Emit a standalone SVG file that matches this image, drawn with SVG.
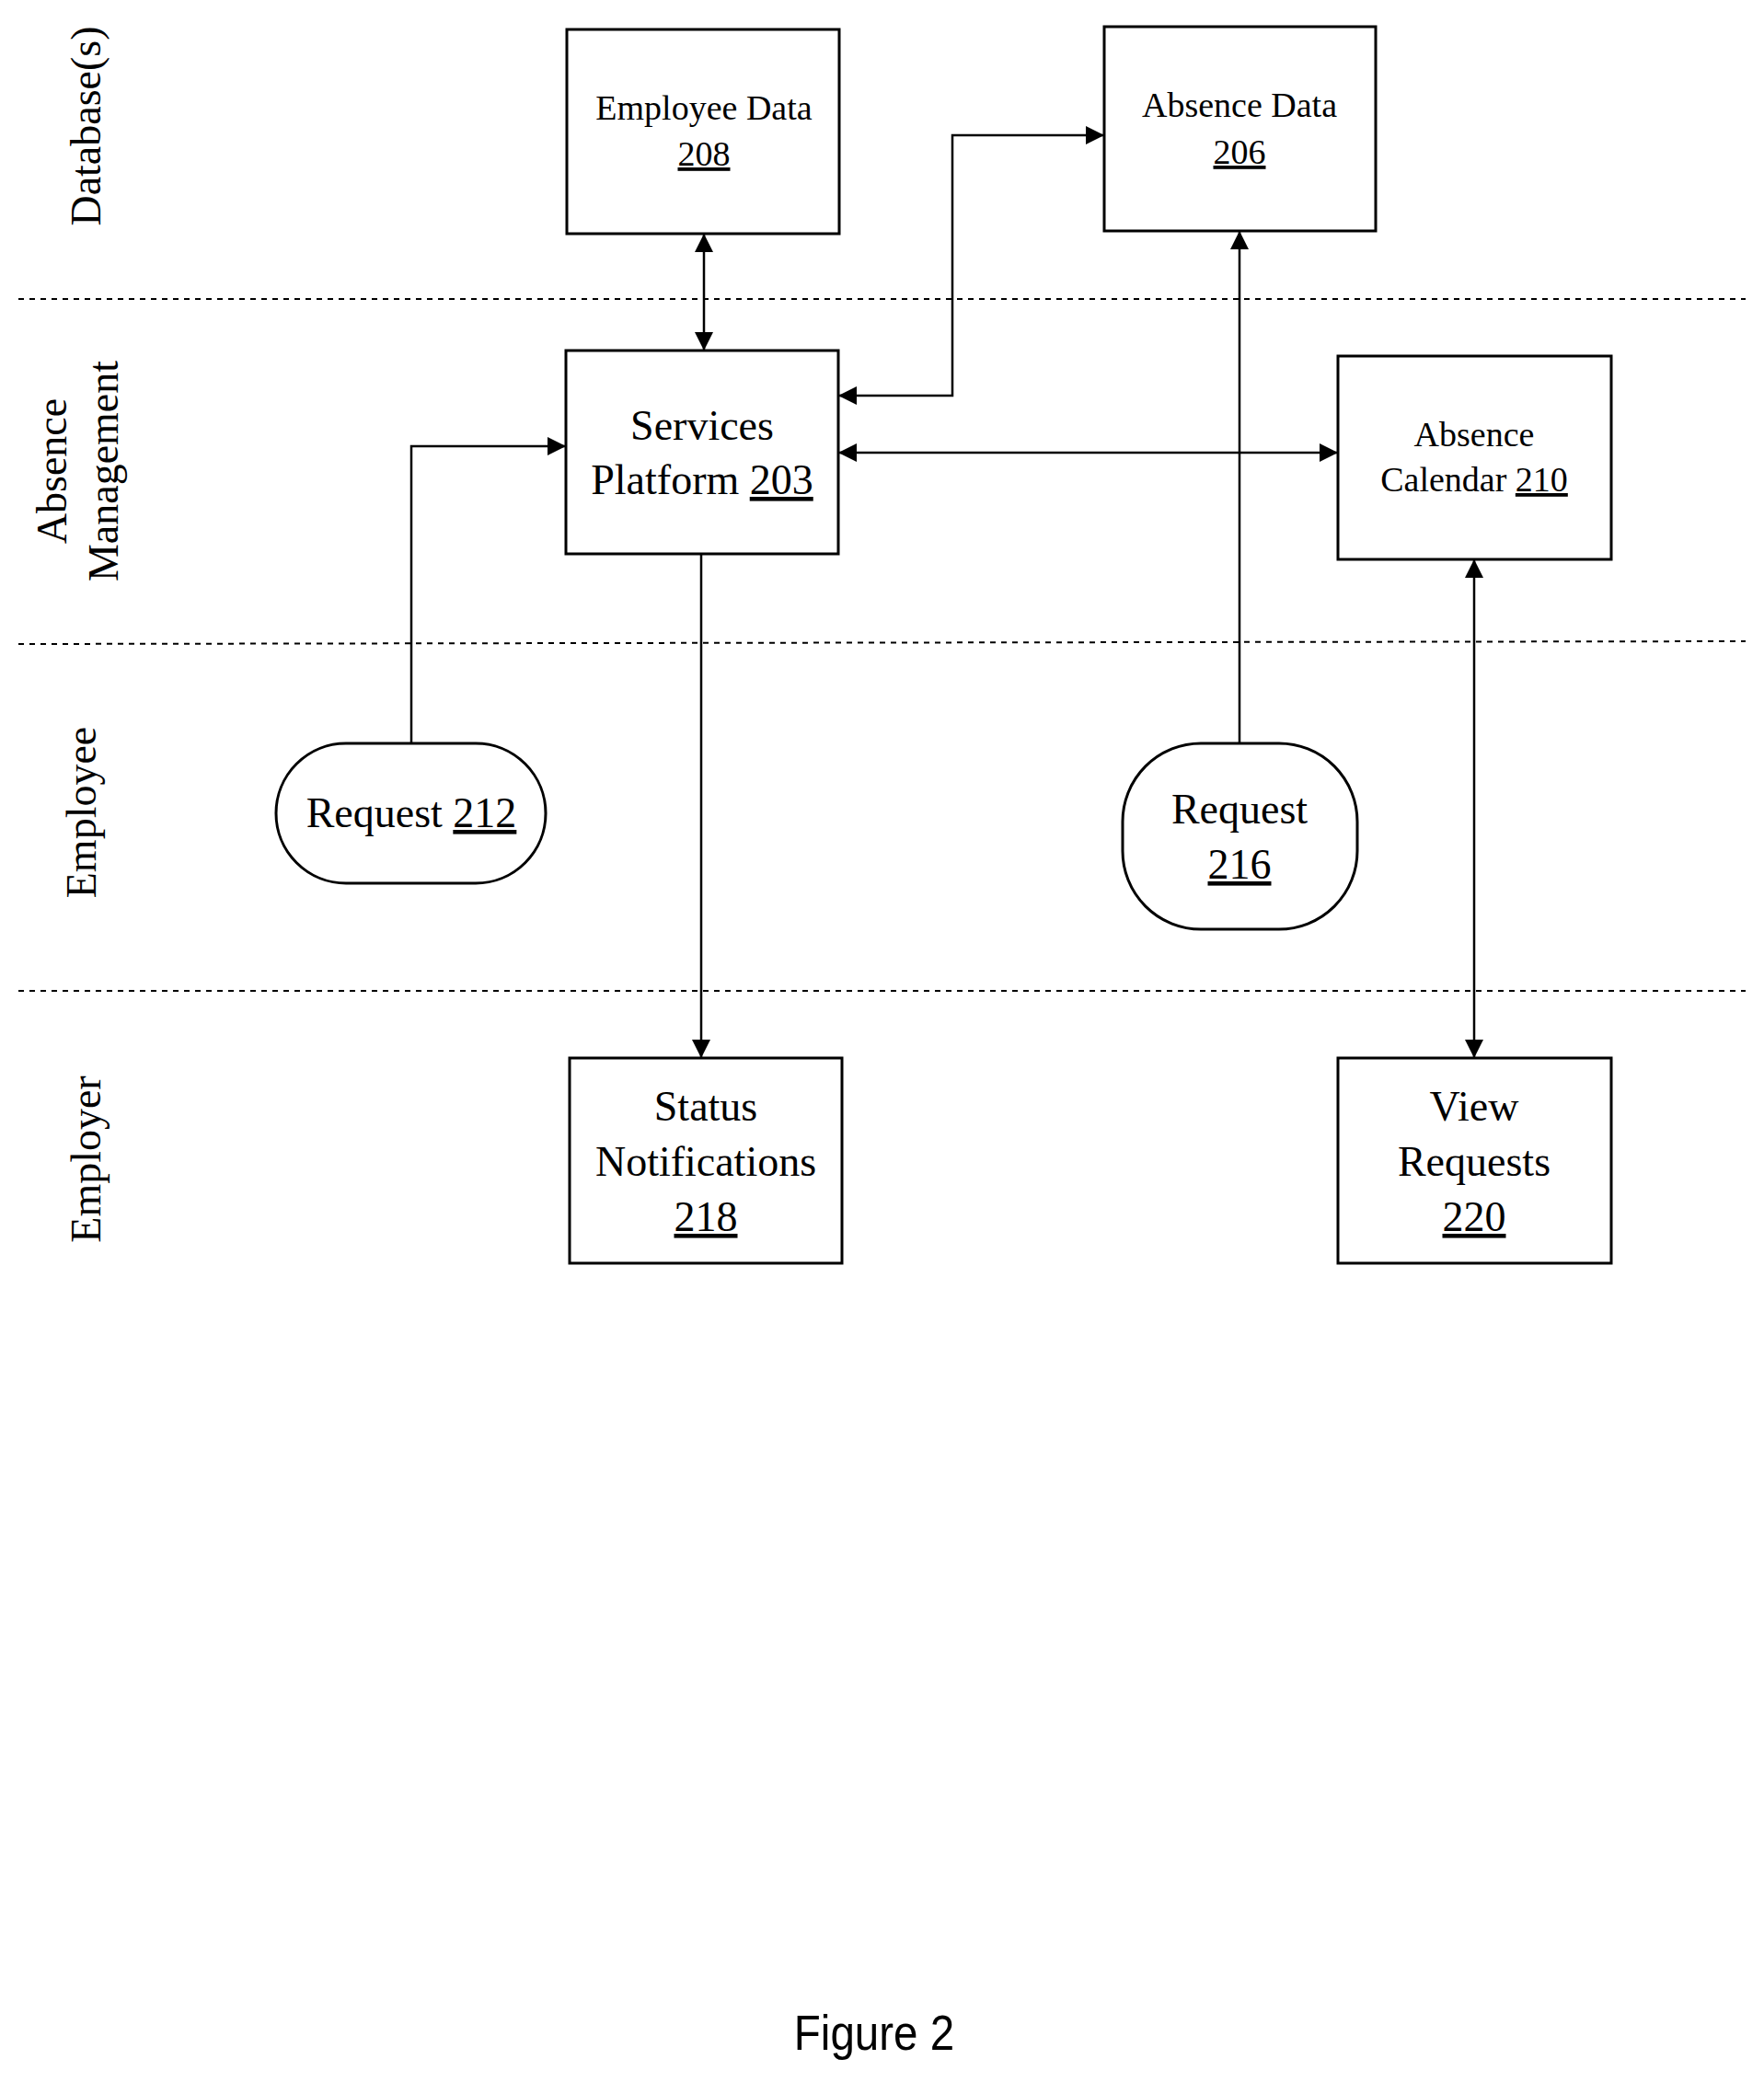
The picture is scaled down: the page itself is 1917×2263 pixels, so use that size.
<svg xmlns="http://www.w3.org/2000/svg" width="1917" height="2263" viewBox="0 0 1917 2263">
<style>
.b{fill:#fff;stroke:#000;stroke-width:3}
.c{fill:none;stroke:#000;stroke-width:2.5}
.t{font-family:"Liberation Serif",serif;text-anchor:middle;fill:#000}
.s{font-size:38px}.l{font-size:46px}
.d{stroke:#000;stroke-width:2;stroke-dasharray:6,6}
</style>
<defs><marker id="a" viewBox="0 0 10 10" refX="10" refY="5" markerWidth="24" markerHeight="20" markerUnits="userSpaceOnUse" orient="auto-start-reverse"><path d="M0,0L10,5L0,10z"/></marker></defs>
<g id="lanes">
<line class="d" x1="20" y1="325" x2="1897" y2="325"/>
<line class="d" x1="20" y1="700" x2="1897" y2="697"/>
<line class="d" x1="20" y1="1077" x2="1897" y2="1077"/>
<text class="t l" transform="translate(109,137) rotate(-90)">Database(s)</text>
<text class="t l" transform="translate(72,512) rotate(-90)">Absence</text>
<text class="t l" transform="translate(128,512) rotate(-90)">Management</text>
<text class="t l" transform="translate(104,883) rotate(-90)">Employee</text>
<text class="t l" transform="translate(109,1260) rotate(-90)">Employer</text>
</g>
<g id="connectors">
<line class="c" x1="765" y1="254" x2="765" y2="381" marker-start="url(#a)" marker-end="url(#a)"/>
<polyline class="c" points="911,430 1035,430 1035,147 1200,147" marker-start="url(#a)" marker-end="url(#a)"/>
<line class="c" x1="911" y1="492" x2="1454" y2="492" marker-start="url(#a)" marker-end="url(#a)"/>
<line class="c" x1="1347" y1="808" x2="1347" y2="251" marker-end="url(#a)"/>
<polyline class="c" points="447,808 447,485 615,485" marker-end="url(#a)"/>
<line class="c" x1="762" y1="602" x2="762" y2="1150" marker-end="url(#a)"/>
<line class="c" x1="1602" y1="608" x2="1602" y2="1150" marker-start="url(#a)" marker-end="url(#a)"/>
</g>
<g id="n208"><rect class="b" x="616" y="32" width="296" height="222"/><text class="t s" x="765" y="130">Employee Data</text><text class="t s" x="765" y="180" text-decoration="underline">208</text></g>
<g id="n206"><rect class="b" x="1200" y="29" width="295" height="222"/><text class="t s" x="1347" y="127">Absence Data</text><text class="t s" x="1347" y="178" text-decoration="underline">206</text></g>
<g id="n203"><rect class="b" x="615" y="381" width="296" height="221"/><text class="t l" x="763" y="478">Services</text><text class="t l" x="763" y="537">Platform <tspan text-decoration="underline">203</tspan></text></g>
<g id="n210"><rect class="b" x="1454" y="387" width="297" height="221"/><text class="t s" x="1602" y="485">Absence</text><text class="t s" x="1602" y="534">Calendar <tspan text-decoration="underline">210</tspan></text></g>
<g id="n212"><rect class="b" x="300" y="808" width="293" height="152" rx="76"/><text class="t l" x="447" y="899">Request <tspan text-decoration="underline">212</tspan></text></g>
<g id="n216"><rect class="b" x="1220" y="808" width="255" height="202" rx="85"/><text class="t l" x="1347" y="895">Request</text><text class="t l" x="1347" y="955" text-decoration="underline">216</text></g>
<g id="n218"><rect class="b" x="619" y="1150" width="296" height="223"/><text class="t l" x="767" y="1218">Status</text><text class="t l" x="767" y="1278">Notifications</text><text class="t l" x="767" y="1338" text-decoration="underline">218</text></g>
<g id="n220"><rect class="b" x="1454" y="1150" width="297" height="223"/><text class="t l" x="1602" y="1218">View</text><text class="t l" x="1602" y="1278">Requests</text><text class="t l" x="1602" y="1338" text-decoration="underline">220</text></g>
<text x="950" y="2228" font-family="Liberation Sans, sans-serif" font-size="54" text-anchor="middle" transform="translate(950,0) scale(0.88,1) translate(-950,0)">Figure 2</text>
</svg>
